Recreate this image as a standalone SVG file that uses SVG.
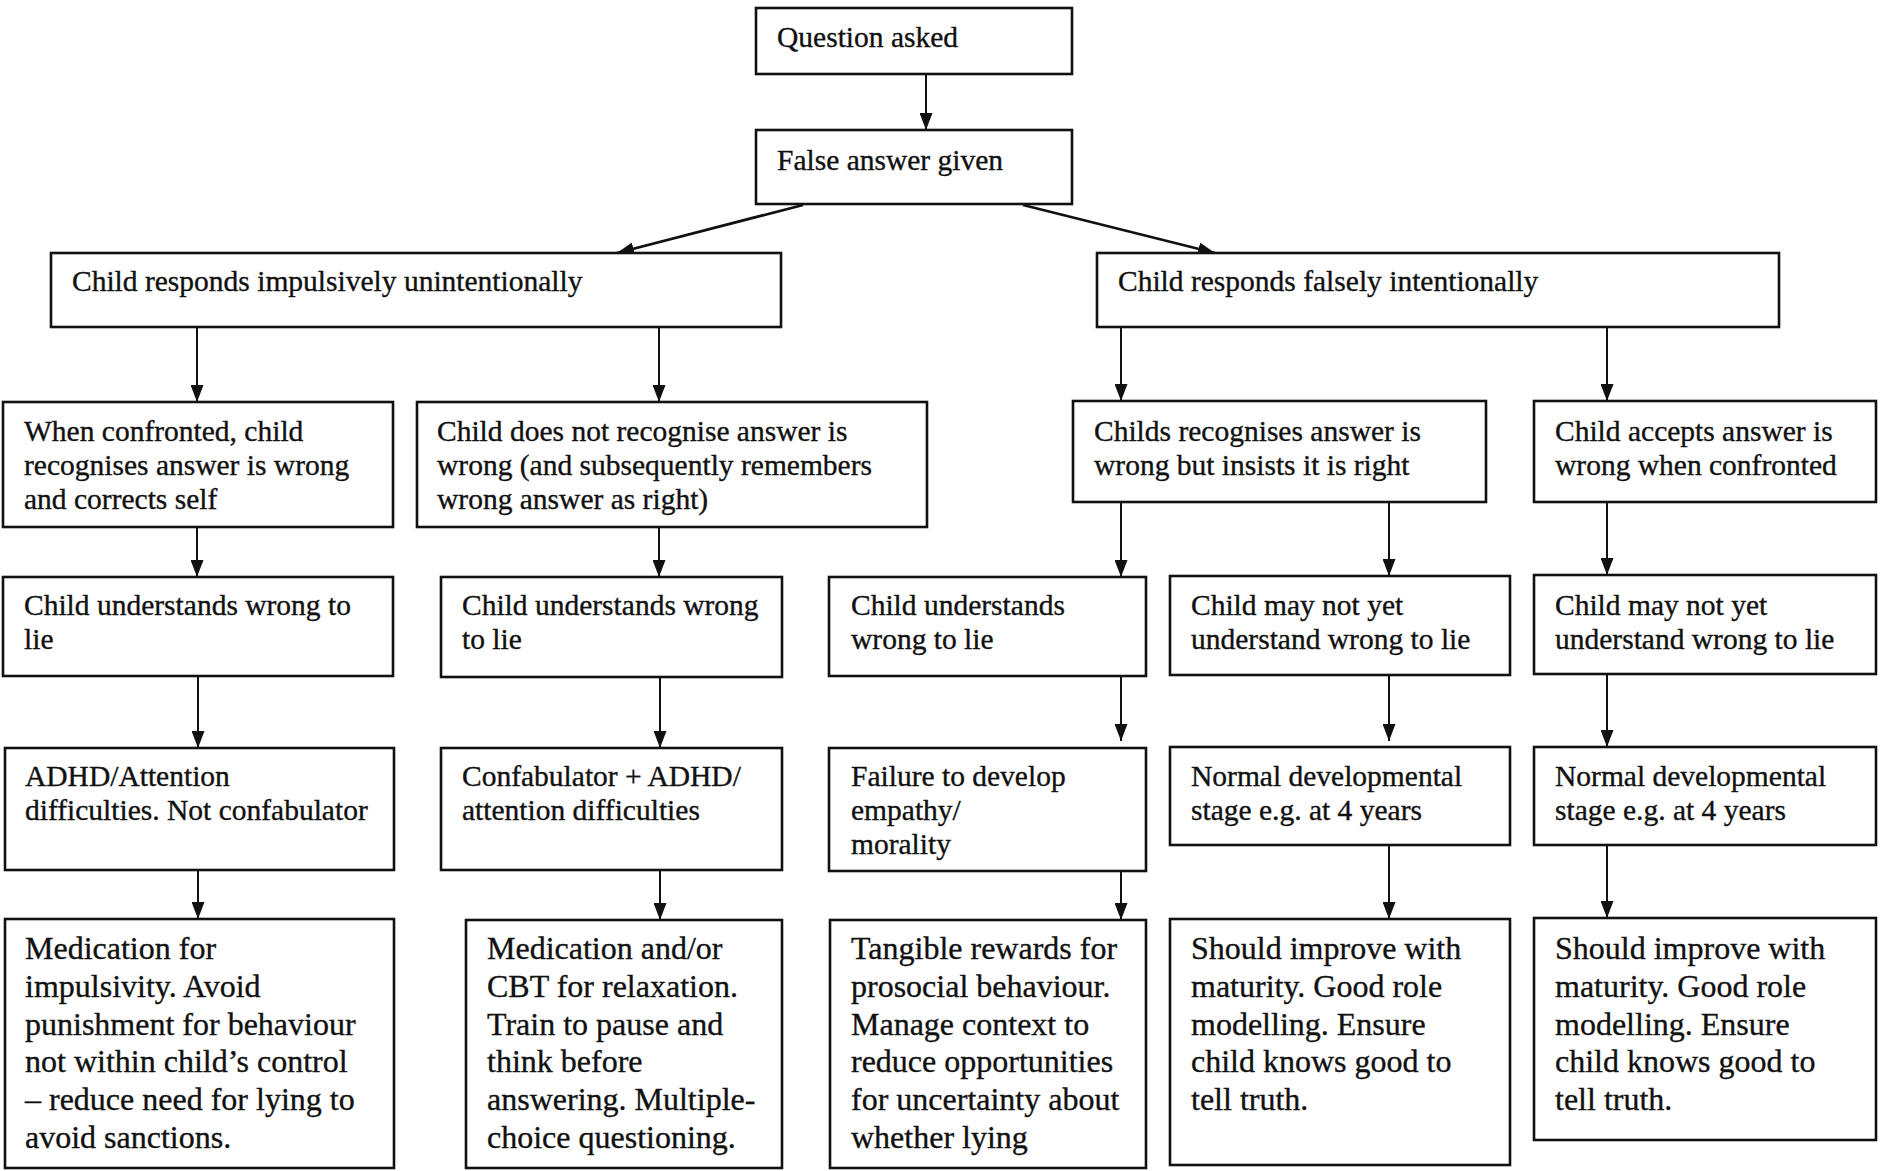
<svg xmlns="http://www.w3.org/2000/svg" width="1901" height="1171" viewBox="0 0 1901 1171">
<style>
.box{fill:#fff;stroke:#111;stroke-width:2.6}
.t{font-family:"Liberation Serif","Times New Roman",serif;font-size:29.5px;fill:#111;stroke:#111;stroke-width:0.35}
.tb{font-family:"Liberation Serif","Times New Roman",serif;font-size:32px;fill:#111;stroke:#111;stroke-width:0.35}
.c{stroke:#111;stroke-width:2;fill:none}
.cd{stroke:#111;stroke-width:2.8;fill:none}
</style>
<defs>
<marker id="ah" markerUnits="userSpaceOnUse" markerWidth="17" markerHeight="13" refX="17" refY="6.5" orient="auto">
<path d="M0,0 L17,6.5 L0,13 z" fill="#111"/>
</marker>
</defs>
<rect width="1901" height="1171" fill="#fff"/>
<g id="connectors">
<line class="c" x1="926" y1="74" x2="926" y2="130" marker-end="url(#ah)"/>
<line class="cd" x1="803" y1="205" x2="617" y2="253" marker-end="url(#ah)"/>
<line class="cd" x1="1023" y1="205" x2="1215" y2="253" marker-end="url(#ah)"/>
<line class="c" x1="197" y1="327" x2="197" y2="402" marker-end="url(#ah)"/>
<line class="c" x1="659" y1="327" x2="659" y2="402" marker-end="url(#ah)"/>
<line class="c" x1="1121" y1="327" x2="1121" y2="401" marker-end="url(#ah)"/>
<line class="c" x1="1607" y1="327" x2="1607" y2="401" marker-end="url(#ah)"/>
<line class="c" x1="197" y1="527" x2="197" y2="577" marker-end="url(#ah)"/>
<line class="c" x1="659" y1="527" x2="659" y2="577" marker-end="url(#ah)"/>
<line class="c" x1="1121" y1="502" x2="1121" y2="577" marker-end="url(#ah)"/>
<line class="c" x1="1389" y1="502" x2="1389" y2="576" marker-end="url(#ah)"/>
<line class="c" x1="1607" y1="502" x2="1607" y2="575" marker-end="url(#ah)"/>
<line class="c" x1="198" y1="676" x2="198" y2="748" marker-end="url(#ah)"/>
<line class="c" x1="660" y1="677" x2="660" y2="748" marker-end="url(#ah)"/>
<line class="c" x1="1121" y1="676" x2="1121" y2="741" marker-end="url(#ah)"/>
<line class="c" x1="1389" y1="675" x2="1389" y2="741" marker-end="url(#ah)"/>
<line class="c" x1="1607" y1="674" x2="1607" y2="747" marker-end="url(#ah)"/>
<line class="c" x1="198" y1="870" x2="198" y2="919" marker-end="url(#ah)"/>
<line class="c" x1="660" y1="870" x2="660" y2="920" marker-end="url(#ah)"/>
<line class="c" x1="1121" y1="871" x2="1121" y2="920" marker-end="url(#ah)"/>
<line class="c" x1="1389" y1="845" x2="1389" y2="919" marker-end="url(#ah)"/>
<line class="c" x1="1607" y1="845" x2="1607" y2="918" marker-end="url(#ah)"/>
</g>
<g id="n-question"><rect class="box" x="756" y="8" width="316" height="66"/><text class="t" x="777" y="47">Question asked</text></g>
<g id="n-false"><rect class="box" x="756" y="130" width="316" height="74"/><text class="t" x="777" y="170">False answer given</text></g>
<g id="n-impulsive"><rect class="box" x="51" y="253" width="730" height="74"/><text class="t" x="72" y="291">Child responds impulsively unintentionally</text></g>
<g id="n-intentional"><rect class="box" x="1097" y="253" width="682" height="74"/><text class="t" x="1118" y="291">Child responds falsely intentionally</text></g>

<g id="n-a2"><rect class="box" x="3" y="402" width="390" height="125"/><text class="t"><tspan x="24" y="441">When confronted, child</tspan><tspan x="24" y="475">recognises answer is wrong</tspan><tspan x="24" y="509">and corrects self</tspan></text></g>
<g id="n-b2"><rect class="box" x="417" y="402" width="510" height="125"/><text class="t"><tspan x="437" y="441">Child does not recognise answer is</tspan><tspan x="437" y="475">wrong (and subsequently remembers</tspan><tspan x="437" y="509">wrong answer as right)</tspan></text></g>
<g id="n-c2"><rect class="box" x="1073" y="401" width="413" height="101"/><text class="t"><tspan x="1094" y="441">Childs recognises answer is</tspan><tspan x="1094" y="475">wrong but insists it is right</tspan></text></g>
<g id="n-d2"><rect class="box" x="1534" y="401" width="342" height="101"/><text class="t"><tspan x="1555" y="441">Child accepts answer is</tspan><tspan x="1555" y="475">wrong when confronted</tspan></text></g>

<g id="n-a3"><rect class="box" x="3" y="577" width="390" height="99"/><text class="t"><tspan x="24" y="615">Child understands wrong to</tspan><tspan x="24" y="649">lie</tspan></text></g>
<g id="n-b3"><rect class="box" x="441" y="577" width="341" height="100"/><text class="t"><tspan x="462" y="615">Child understands wrong</tspan><tspan x="462" y="649">to lie</tspan></text></g>
<g id="n-c3"><rect class="box" x="829" y="577" width="317" height="99"/><text class="t"><tspan x="851" y="615">Child understands</tspan><tspan x="851" y="649">wrong to lie</tspan></text></g>
<g id="n-d3"><rect class="box" x="1170" y="576" width="340" height="99"/><text class="t"><tspan x="1191" y="615">Child may not yet</tspan><tspan x="1191" y="649">understand wrong to lie</tspan></text></g>
<g id="n-e3"><rect class="box" x="1534" y="575" width="342" height="99"/><text class="t"><tspan x="1555" y="615">Child may not yet</tspan><tspan x="1555" y="649">understand wrong to lie</tspan></text></g>

<g id="n-a4"><rect class="box" x="5" y="748" width="389" height="122"/><text class="t"><tspan x="25" y="786">ADHD/Attention</tspan><tspan x="25" y="820">difficulties. Not confabulator</tspan></text></g>
<g id="n-b4"><rect class="box" x="441" y="748" width="341" height="122"/><text class="t"><tspan x="462" y="786">Confabulator + ADHD/</tspan><tspan x="462" y="820">attention difficulties</tspan></text></g>
<g id="n-c4"><rect class="box" x="829" y="748" width="317" height="123"/><text class="t"><tspan x="851" y="786">Failure to develop</tspan><tspan x="851" y="820">empathy/</tspan><tspan x="851" y="854">morality</tspan></text></g>
<g id="n-d4"><rect class="box" x="1170" y="747" width="340" height="98"/><text class="t"><tspan x="1191" y="786">Normal developmental</tspan><tspan x="1191" y="820">stage e.g. at 4 years</tspan></text></g>
<g id="n-e4"><rect class="box" x="1534" y="747" width="342" height="98"/><text class="t"><tspan x="1555" y="786">Normal developmental</tspan><tspan x="1555" y="820">stage e.g. at 4 years</tspan></text></g>

<g id="n-a5"><rect class="box" x="5" y="919" width="389" height="249"/><text class="tb"><tspan x="25" y="959">Medication for</tspan><tspan x="25" y="997">impulsivity. Avoid</tspan><tspan x="25" y="1035">punishment for behaviour</tspan><tspan x="25" y="1072">not within child’s control</tspan><tspan x="25" y="1110">– reduce need for lying to</tspan><tspan x="25" y="1148">avoid sanctions.</tspan></text></g>
<g id="n-b5"><rect class="box" x="466" y="920" width="316" height="248"/><text class="tb"><tspan x="487" y="959">Medication and/or</tspan><tspan x="487" y="997">CBT for relaxation.</tspan><tspan x="487" y="1035">Train to pause and</tspan><tspan x="487" y="1072">think before</tspan><tspan x="487" y="1110">answering. Multiple-</tspan><tspan x="487" y="1148">choice questioning.</tspan></text></g>
<g id="n-c5"><rect class="box" x="830" y="920" width="316" height="248"/><text class="tb"><tspan x="851" y="959">Tangible rewards for</tspan><tspan x="851" y="997">prosocial behaviour.</tspan><tspan x="851" y="1035">Manage context to</tspan><tspan x="851" y="1072">reduce opportunities</tspan><tspan x="851" y="1110">for uncertainty about</tspan><tspan x="851" y="1148">whether lying</tspan></text></g>
<g id="n-d5"><rect class="box" x="1170" y="919" width="340" height="246"/><text class="tb"><tspan x="1191" y="959">Should improve with</tspan><tspan x="1191" y="997">maturity. Good role</tspan><tspan x="1191" y="1035">modelling. Ensure</tspan><tspan x="1191" y="1072">child knows good to</tspan><tspan x="1191" y="1110">tell truth.</tspan></text></g>
<g id="n-e5"><rect class="box" x="1534" y="918" width="342" height="222"/><text class="tb"><tspan x="1555" y="959">Should improve with</tspan><tspan x="1555" y="997">maturity. Good role</tspan><tspan x="1555" y="1035">modelling. Ensure</tspan><tspan x="1555" y="1072">child knows good to</tspan><tspan x="1555" y="1110">tell truth.</tspan></text></g>
</svg>
